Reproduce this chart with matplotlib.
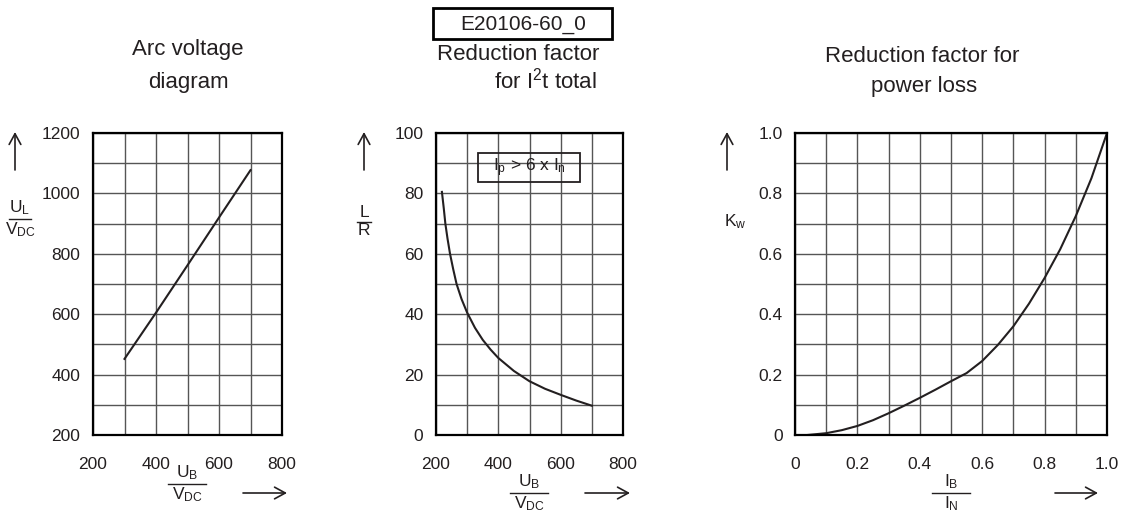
import numpy as np
import matplotlib
matplotlib.use('Agg')
import matplotlib.pyplot as plt
from matplotlib.lines import Line2D
from matplotlib.patches import Rectangle, FancyArrowPatch

plt.rcParams['font.family'] = ['Liberation Sans', 'DejaVu Sans']
plt.rcParams['mathtext.default'] = 'regular'

INK = '#231f20'
GRID = '#555555'

# Arc voltage diagram: U_L over U_B
arc_ub = [300, 400, 500, 600, 700]
arc_ul = [452, 605, 762, 920, 1077]

# Reduction factor L/R over U_B
lr_ub = [219, 225, 230, 237, 245, 255, 266, 282, 300, 325, 350, 375, 400, 450, 500,
         550, 600, 650, 700]
lr_val = [80.5, 75, 70, 65, 60, 55, 50, 45, 40.5, 35.5, 31.5, 28.3, 25.5, 21.2, 17.8,
          15.3, 13.3, 11.4, 9.7]

# Reduction factor for power loss K_w over I_B/I_N
kw_i = [0.04, 0.05, 0.1, 0.15, 0.2, 0.25, 0.3, 0.35, 0.4, 0.45, 0.5, 0.55, 0.6,
        0.65, 0.7, 0.75, 0.8, 0.85, 0.9, 0.95, 1.0]
kw_val = [0, 0.001, 0.006, 0.016, 0.03, 0.049, 0.072, 0.097, 0.123, 0.15, 0.178,
          0.205, 0.245, 0.298, 0.36, 0.435, 0.52, 0.615, 0.725, 0.85, 1.0]

W, H = 1126, 519
fig = plt.figure(figsize=(W / 100, H / 100), dpi=100)


def px_axes(left, right, top, bottom):
    return fig.add_axes([left / W, 1 - bottom / H, (right - left) / W, (bottom - top) / H])


def style(ax, xlim, ylim, xmaj, ymaj, xmin, ymin, xlabels, ylabels):
    ax.set_xlim(*xlim)
    ax.set_ylim(*ylim)
    ax.set_xticks(xmaj)
    ax.set_xticklabels(xlabels)
    ax.set_yticks(ymaj)
    ax.set_yticklabels(ylabels)
    ax.set_xticks(xmin, minor=True)
    ax.set_yticks(ymin, minor=True)
    ax.grid(True, which='both', color=GRID, linewidth=1.0)
    ax.tick_params(which='both', length=0, labelsize=12.5, colors=INK)
    ax.tick_params(axis='x', pad=16)
    ax.tick_params(axis='y', pad=9)
    for s in ax.spines.values():
        s.set_linewidth(1.6)
        s.set_color('black')
        s.set_zorder(5)


def ftext(x, y, s, size=12.5, **kw):
    fig.text(x / W, 1 - y / H, s, fontsize=size, color=INK, **kw)


def fline(x0, x1, y0, y1, lw=1.0):
    fig.add_artist(Line2D([x0 / W, x1 / W], [1 - y0 / H, 1 - y1 / H], color=INK, lw=lw))


def farrow(x0, y0, x1, y1):
    fig.add_artist(FancyArrowPatch(
        (x0 / W, 1 - y0 / H), (x1 / W, 1 - y1 / H), transform=fig.transFigure,
        arrowstyle='->,head_length=0.55,head_width=0.3', mutation_scale=14,
        color=INK, lw=1.2, shrinkA=0, shrinkB=0))


def fraction(cx, ly, top, bottom, half=18):
    fline(cx - half, cx + half, ly, ly)
    ftext(cx, ly - 2, top, ha='center', va='bottom')
    ftext(cx, ly + 1, bottom, ha='center', va='top')


# panel 1
ax1 = px_axes(93, 282, 133, 435)
style(ax1, (200, 800), (200, 1200), [200, 400, 600, 800], np.arange(200, 1201, 200),
      np.arange(200, 801, 100), np.arange(200, 1201, 100),
      ['200', '400', '600', '800'], [str(v) for v in range(200, 1201, 200)])
ax1.plot(arc_ub, arc_ul, color=INK, lw=1.5)

# panel 2
ax2 = px_axes(436, 623, 133, 435)
style(ax2, (200, 800), (0, 100), [200, 400, 600, 800], np.arange(0, 101, 20),
      np.arange(200, 801, 100), np.arange(0, 101, 10),
      ['200', '400', '600', '800'], [str(v) for v in range(0, 101, 20)])
ax2.plot(lr_ub, lr_val, color=INK, lw=1.5)

# panel 3
ax3 = px_axes(795, 1107, 133, 435)
style(ax3, (0, 1), (0, 1), [0, 0.2, 0.4, 0.6, 0.8, 1.0], [0, 0.2, 0.4, 0.6, 0.8, 1.0],
      np.arange(0, 1.01, 0.1), np.arange(0, 1.01, 0.1),
      ['0', '0.2', '0.4', '0.6', '0.8', '1.0'], ['0', '0.2', '0.4', '0.6', '0.8', '1.0'])
ax3.plot(kw_i, kw_val, color=INK, lw=1.5)

# titles
ftext(188, 55, 'Arc voltage', size=16, ha='center', va='baseline')
ftext(188, 88, 'diagram', size=16, ha='center', va='baseline')
ftext(518, 60, 'Reduction factor', size=16, ha='center', va='baseline')
ftext(545, 88, 'for I$^2$t total', size=16, ha='center', va='baseline')
ftext(922, 62, 'Reduction factor for', size=16, ha='center', va='baseline')
ftext(924, 92, 'power loss', size=16, ha='center', va='baseline')

# drawing number box
fig.add_artist(Rectangle((433 / W, 1 - 39 / H), 179 / W, 31 / H, transform=fig.transFigure,
                         fill=False, edgecolor='black', lw=2))
ftext(523, 24, 'E20106-60_0', size=15, ha='center', va='center')

# condition box in panel 2
fig.add_artist(Rectangle((478 / W, 1 - 182 / H), 102 / W, 29 / H, transform=fig.transFigure,
                         fill=False, edgecolor=INK, lw=1.3, zorder=6))
ftext(529, 168, 'I$_{\\mathregular{p}}$ > 6 x I$_{\\mathregular{n}}$', size=12.5,
      ha='center', va='center', zorder=7)

# y axis labels
farrow(15, 170, 15, 132)
farrow(364, 170, 364, 132)
farrow(727, 170, 727, 132)
fraction(20, 219, 'U$_{\\mathregular{L}}$', 'V$_{\\mathregular{DC}}$', half=11)
fraction(364, 222, 'L', 'R', half=7)
ftext(735, 222, 'K$_w$', size=12.5, ha='center', va='center')

# x axis labels
fraction(187, 484, 'U$_{\\mathregular{B}}$', 'V$_{\\mathregular{DC}}$', half=19)
farrow(243, 493, 287, 493)
fraction(529, 493, 'U$_{\\mathregular{B}}$', 'V$_{\\mathregular{DC}}$', half=19)
farrow(585, 493, 630, 493)
fraction(951, 493, 'I$_{\\mathregular{B}}$', 'I$_{\\mathregular{N}}$', half=19)
farrow(1055, 493, 1098, 493)

fig.savefig('out.png', dpi=100)
